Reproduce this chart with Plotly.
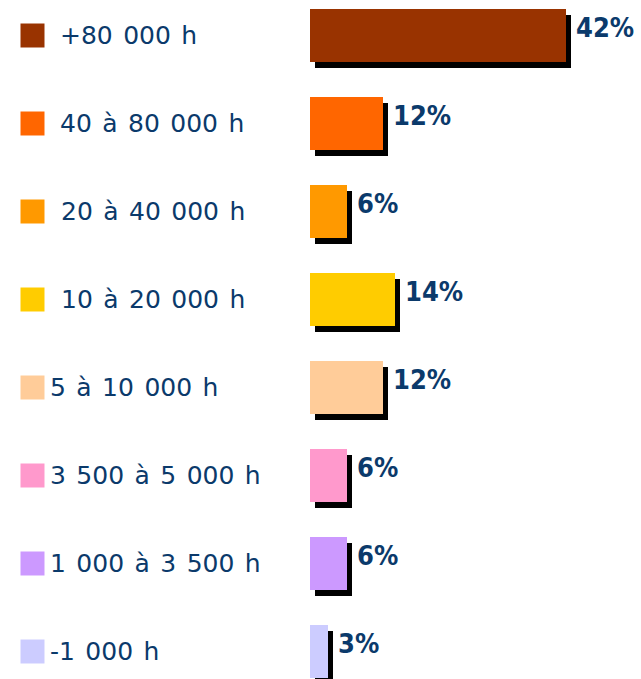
import plotly.graph_objects as go

categories = ["+80 000 h", "40 à 80 000 h", "20 à 40 000 h", "10 à 20 000 h",
              "5 à 10 000 h", "3 500 à 5 000 h", "1 000 à 3 500 h", "-1 000 h"]
values = [42, 12, 6, 14, 12, 6, 6, 3]
pct_labels = ["42%", "12%", "6%", "14%", "12%", "6%", "6%", "3%"]
colors = ["#993300", "#FF6600", "#FF9900", "#FFCC00",
          "#FFCC99", "#FF99CC", "#CC99FF", "#CCCCFF"]
label_x = [61, 61, 62, 62, 51, 51, 51, 51]  # legend text left edge (px)

W, H = 641, 679
TEXT = "#0B3A6B"
X0 = 310            # px where bars start
PX_PER = 6.1        # px per percent
xmax = (W - X0) / PX_PER
ROW = 88.0
top_center = 35.5
y_top = -top_center / ROW
y_bot = (H - top_center) / ROW
bw = 53 / ROW
sx = 5 / PX_PER     # shadow x offset
sy = 6 / ROW        # shadow y offset

fig = go.Figure()
# shadow
fig.add_trace(go.Bar(orientation="h", y=categories, x=values, base=sx,
                     width=bw, offset=-bw / 2 + sy,
                     marker=dict(color="black", line=dict(width=0)),
                     hoverinfo="skip", xaxis="x", yaxis="y"))
# main bars
fig.add_trace(go.Bar(orientation="h", y=categories, x=values,
                     width=bw, offset=-bw / 2,
                     marker=dict(color=colors, line=dict(width=0)),
                     xaxis="x", yaxis="y"))
# legend squares
fig.add_trace(go.Scatter(x=[32.5] * len(categories), y=categories, mode="markers",
                         marker=dict(symbol="square", size=24, color=colors,
                                     line=dict(width=0)),
                         xaxis="x2", yaxis="y", hoverinfo="skip"))

annotations = []
for i, (c, v, t, lx) in enumerate(zip(categories, values, pct_labels, label_x)):
    annotations.append(dict(x=lx, y=c, xref="x2", yref="y",
                            text='<span style="word-spacing:2.5px">' + c + "</span>",
                            xanchor="left", yanchor="middle", showarrow=False,
                            xshift=-3,
                            font=dict(family="DejaVu Sans", size=25, color=TEXT)))
    annotations.append(dict(x=v + sx, y=c, xref="x", yref="y", text="<b>" + t + "</b>",
                            xanchor="left", yanchor="middle", showarrow=False,
                            xshift=3, yshift=8,
                            font=dict(family="DejaVu Sans Condensed",
                                      size=27, color=TEXT)))

fig.update_layout(
    width=W, height=H, margin=dict(l=0, r=0, t=0, b=0),
    paper_bgcolor="white", plot_bgcolor="white",
    showlegend=False, barmode="overlay", bargap=0,
    xaxis=dict(domain=[X0 / W, 1], range=[0, xmax], visible=False, fixedrange=True),
    xaxis2=dict(domain=[0, X0 / W], range=[0, X0], visible=False, anchor="y"),
    yaxis=dict(range=[y_bot, y_top], visible=False, type="category",
               categoryorder="array", categoryarray=categories),
    annotations=annotations,
)
fig.write_html("out.html", config={"displayModeBar": False},
               post_script="document.body.style.margin='0';")
